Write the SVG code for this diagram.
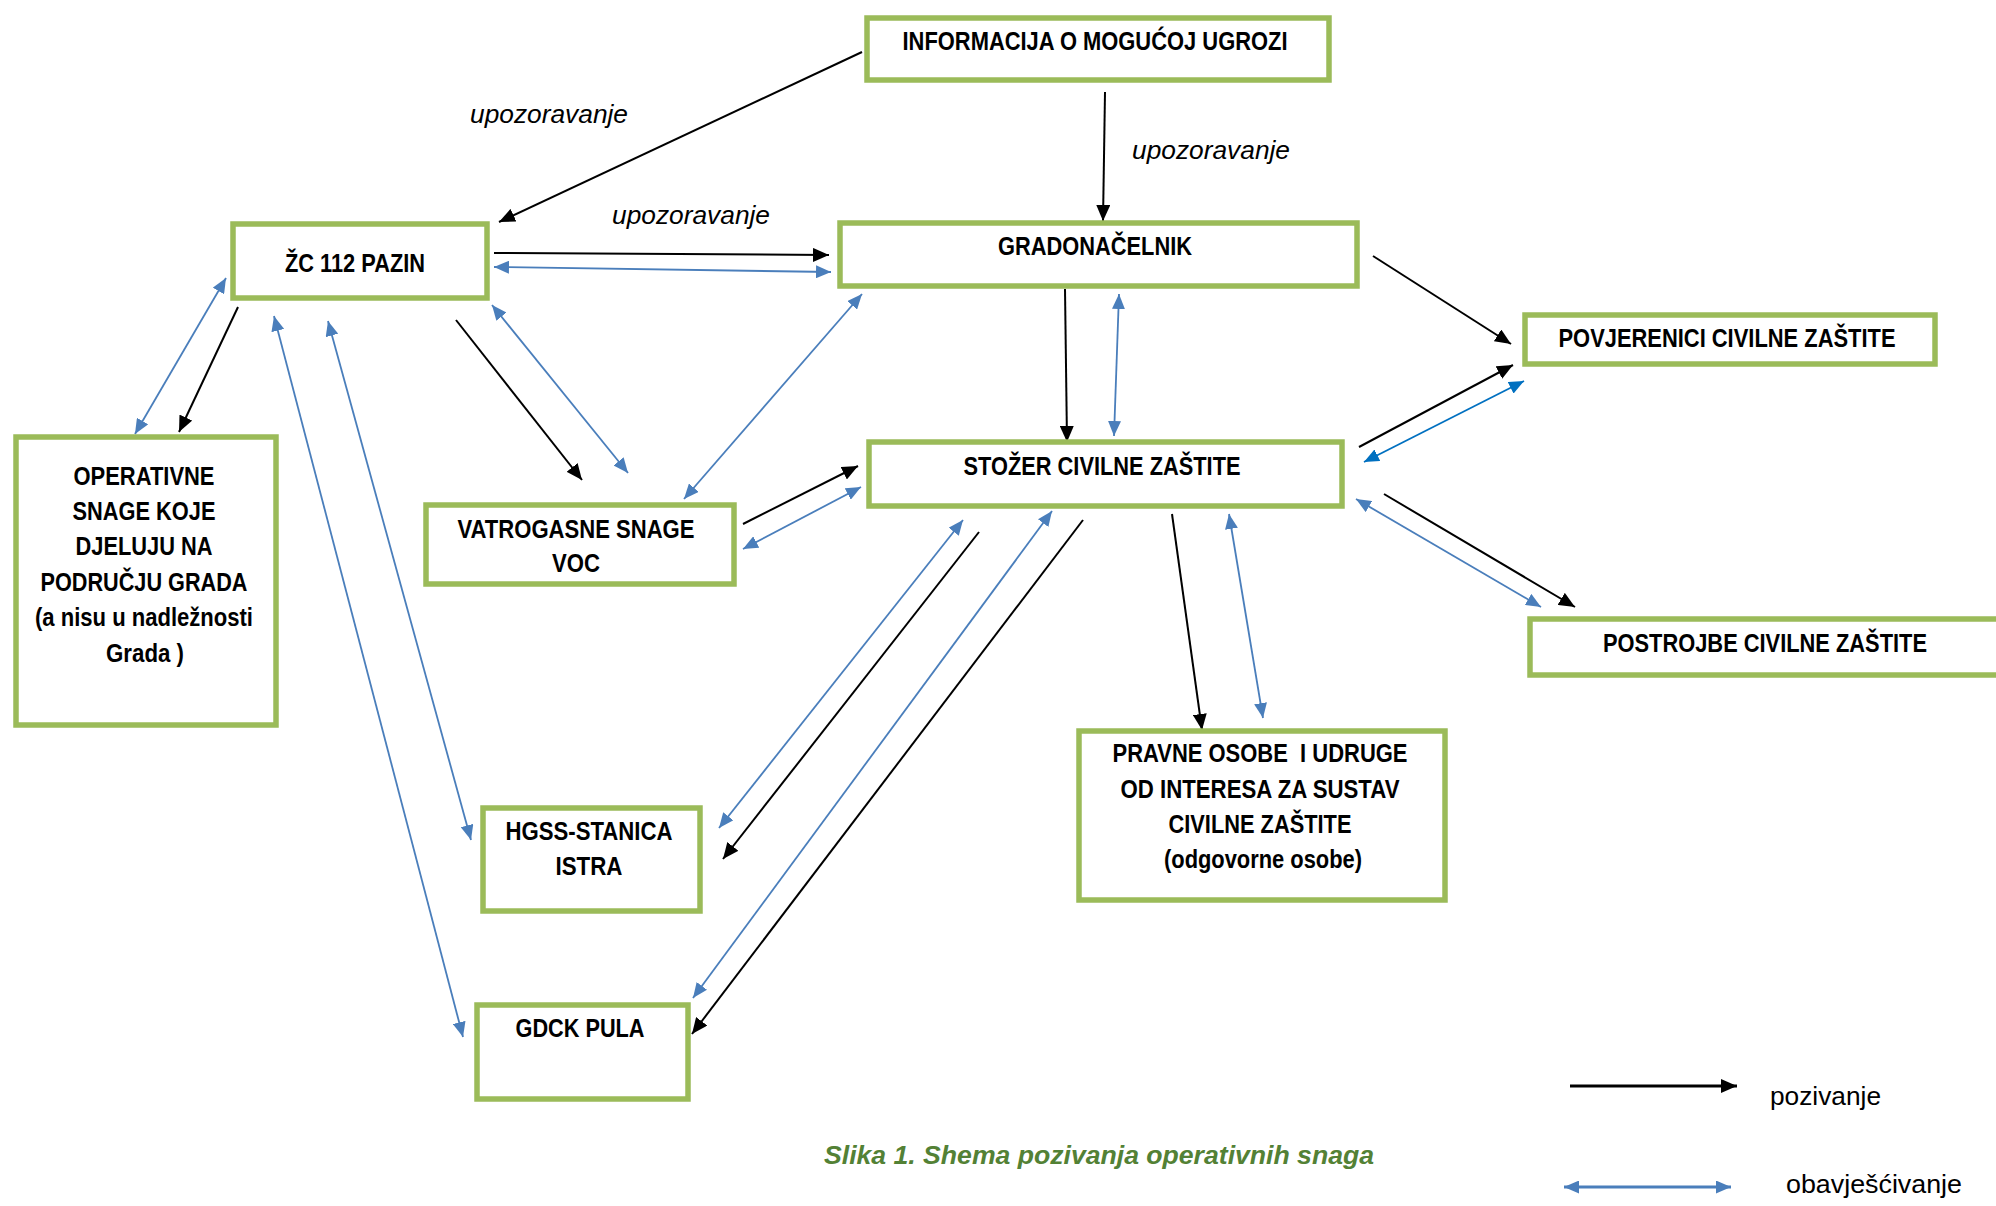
<svg xmlns="http://www.w3.org/2000/svg" width="1996" height="1206" viewBox="0 0 1996 1206">
<style>
.box{fill:#fff;stroke:#9BBB59;stroke-width:5.5}
.t{font-family:"Liberation Sans Narrow","Liberation Sans",Arial,sans-serif;font-weight:bold;font-size:25px;fill:#000;text-anchor:middle}
.lab{font-family:"Liberation Sans",Arial,sans-serif;font-style:italic;font-size:26px;fill:#000;text-anchor:middle}
.leg{font-family:"Liberation Sans",Arial,sans-serif;font-size:26px;fill:#000}
.cap{font-family:"Liberation Sans",Arial,sans-serif;font-style:italic;font-weight:bold;font-size:26px;fill:#538135}
.k{stroke:#000;stroke-width:2;fill:none;marker-end:url(#ak)}
.b{stroke:#4A7EBB;stroke-width:1.8;fill:none;marker-start:url(#ab);marker-end:url(#ab)}
.b2{stroke:#0070C0;stroke-width:1.8;fill:none;marker-start:url(#ab2);marker-end:url(#ab2)}
</style>
<defs>
<marker id="ak" markerUnits="userSpaceOnUse" markerWidth="16" markerHeight="14" refX="16" refY="7" orient="auto-start-reverse"><path d="M0,0 L16,7 L0,14 Z" fill="#000"/></marker>
<marker id="ab" markerUnits="userSpaceOnUse" markerWidth="15" markerHeight="13" refX="15" refY="6.5" orient="auto-start-reverse"><path d="M0,0 L15,6.5 L0,13 Z" fill="#4A7EBB"/></marker>
<marker id="ab2" markerUnits="userSpaceOnUse" markerWidth="15" markerHeight="13" refX="15" refY="6.5" orient="auto-start-reverse"><path d="M0,0 L15,6.5 L0,13 Z" fill="#0070C0"/></marker>
</defs>
<rect width="1996" height="1206" fill="#fff"/>

<g id="connectors">
<line class="k" x1="862" y1="52" x2="499" y2="222"/>
<line class="k" x1="494" y1="253" x2="829" y2="255"/>
<line class="b" x1="494" y1="267" x2="831" y2="272"/>
<line class="b" x1="226" y1="278" x2="135" y2="434"/>
<line class="k" x1="238" y1="307" x2="179" y2="432"/>
<line class="b" x1="274" y1="316" x2="463" y2="1037"/>
<line class="b" x1="328" y1="321" x2="471" y2="840"/>
<line class="k" x1="456" y1="320" x2="582" y2="480"/>
<line class="b" x1="492" y1="305" x2="628" y2="473"/>
<line class="b" x1="684" y1="499" x2="862" y2="294"/>
<line class="k" x1="743" y1="524" x2="858" y2="466"/>
<line class="b" x1="743" y1="549" x2="861" y2="487"/>
<line class="b" x1="963" y1="520" x2="719" y2="828"/>
<line class="k" x1="979" y1="532" x2="723" y2="859"/>
<line class="b" x1="1052" y1="511" x2="693" y2="998"/>
<line class="k" x1="1083" y1="520" x2="692" y2="1034"/>
<line class="k" x1="1105" y1="92" x2="1103" y2="221"/>
<line class="k" x1="1065" y1="289" x2="1067" y2="442"/>
<line class="b" x1="1119" y1="294" x2="1114" y2="436"/>
<line class="k" x1="1373" y1="256" x2="1511" y2="344"/>
<line class="k" x1="1359" y1="447" x2="1513" y2="365"/>
<line class="b2" x1="1364" y1="462" x2="1524" y2="381"/>
<line class="b" x1="1356" y1="499" x2="1541" y2="607"/>
<line class="k" x1="1384" y1="494" x2="1575" y2="607"/>
<line class="k" x1="1172" y1="514" x2="1202" y2="730"/>
<line class="b" x1="1229" y1="514" x2="1263" y2="718"/>
</g>

<g id="informacija">
<rect class="box" x="867" y="18" width="462" height="62"/>
<text class="t" x="1095" y="50" textLength="385" lengthAdjust="spacingAndGlyphs">INFORMACIJA O MOGUĆOJ UGROZI</text>
</g>
<g id="gradonacelnik">
<rect class="box" x="840" y="223" width="517" height="63"/>
<text class="t" x="1095" y="255" textLength="194" lengthAdjust="spacingAndGlyphs">GRADONAČELNIK</text>
</g>
<g id="zc112">
<rect class="box" x="233" y="224" width="254" height="74"/>
<text class="t" x="355" y="272" textLength="140" lengthAdjust="spacingAndGlyphs">ŽC 112 PAZIN</text>
</g>
<g id="povjerenici">
<rect class="box" x="1525" y="315" width="410" height="49"/>
<text class="t" x="1727" y="347" textLength="337" lengthAdjust="spacingAndGlyphs">POVJERENICI CIVILNE ZAŠTITE</text>
</g>
<g id="stozer">
<rect class="box" x="869" y="442" width="473" height="64"/>
<text class="t" x="1102" y="475" textLength="277" lengthAdjust="spacingAndGlyphs">STOŽER CIVILNE ZAŠTITE</text>
</g>
<g id="vatrogasne">
<rect class="box" x="426" y="505" width="308" height="79"/>
<text class="t" x="576" y="538" textLength="237" lengthAdjust="spacingAndGlyphs">VATROGASNE SNAGE</text>
<text class="t" x="576" y="572" textLength="48" lengthAdjust="spacingAndGlyphs">VOC</text>
</g>
<g id="operativne">
<rect class="box" x="16" y="437" width="260" height="288"/>
<text class="t" x="144" y="485" textLength="141" lengthAdjust="spacingAndGlyphs">OPERATIVNE</text>
<text class="t" x="144" y="520" textLength="143" lengthAdjust="spacingAndGlyphs">SNAGE KOJE</text>
<text class="t" x="144" y="555" textLength="137" lengthAdjust="spacingAndGlyphs">DJELUJU NA</text>
<text class="t" x="144" y="591" textLength="207" lengthAdjust="spacingAndGlyphs">PODRUČJU GRADA</text>
<text class="t" x="144" y="626" textLength="218" lengthAdjust="spacingAndGlyphs">(a nisu u nadležnosti</text>
<text class="t" x="145" y="662" textLength="78" lengthAdjust="spacingAndGlyphs">Grada )</text>
</g>
<g id="hgss">
<rect class="box" x="483" y="808" width="217" height="103"/>
<text class="t" x="589" y="840" textLength="167" lengthAdjust="spacingAndGlyphs">HGSS-STANICA</text>
<text class="t" x="589" y="875" textLength="67" lengthAdjust="spacingAndGlyphs">ISTRA</text>
</g>
<g id="gdck">
<rect class="box" x="477" y="1005" width="211" height="94"/>
<text class="t" x="580" y="1037" textLength="129" lengthAdjust="spacingAndGlyphs">GDCK PULA</text>
</g>
<g id="postrojbe">
<rect class="box" x="1530" y="619" width="480" height="56"/>
<text class="t" x="1765" y="652" textLength="324" lengthAdjust="spacingAndGlyphs">POSTROJBE CIVILNE ZAŠTITE</text>
</g>
<g id="pravne">
<rect class="box" x="1079" y="731" width="366" height="169"/>
<text class="t" x="1260" y="762" textLength="295" lengthAdjust="spacingAndGlyphs" xml:space="preserve">PRAVNE OSOBE  I UDRUGE</text>
<text class="t" x="1260" y="798" textLength="279" lengthAdjust="spacingAndGlyphs">OD INTERESA ZA SUSTAV</text>
<text class="t" x="1260" y="833" textLength="183" lengthAdjust="spacingAndGlyphs">CIVILNE ZAŠTITE</text>
<text class="t" x="1263" y="868" textLength="198" lengthAdjust="spacingAndGlyphs">(odgovorne osobe)</text>
</g>

<g id="labels">
<text class="lab" x="549" y="123" textLength="158" lengthAdjust="spacingAndGlyphs">upozoravanje</text>
<text class="lab" x="691" y="224" textLength="158" lengthAdjust="spacingAndGlyphs">upozoravanje</text>
<text class="lab" x="1211" y="159" textLength="158" lengthAdjust="spacingAndGlyphs">upozoravanje</text>
</g>

<g id="legend">
<line x1="1570" y1="1086" x2="1737" y2="1086" stroke="#000" stroke-width="3" marker-end="url(#ak)"/>
<text class="leg" x="1770" y="1105" textLength="111" lengthAdjust="spacingAndGlyphs">pozivanje</text>
<line x1="1564" y1="1187" x2="1731" y2="1187" stroke="#4A7EBB" stroke-width="3" marker-start="url(#ab)" marker-end="url(#ab)"/>
<text class="leg" x="1786" y="1193" textLength="176" lengthAdjust="spacingAndGlyphs">obavješćivanje</text>
</g>

<g id="caption">
<text class="cap" x="824" y="1164" textLength="550" lengthAdjust="spacingAndGlyphs">Slika 1. Shema pozivanja operativnih snaga</text>
</g>
</svg>
